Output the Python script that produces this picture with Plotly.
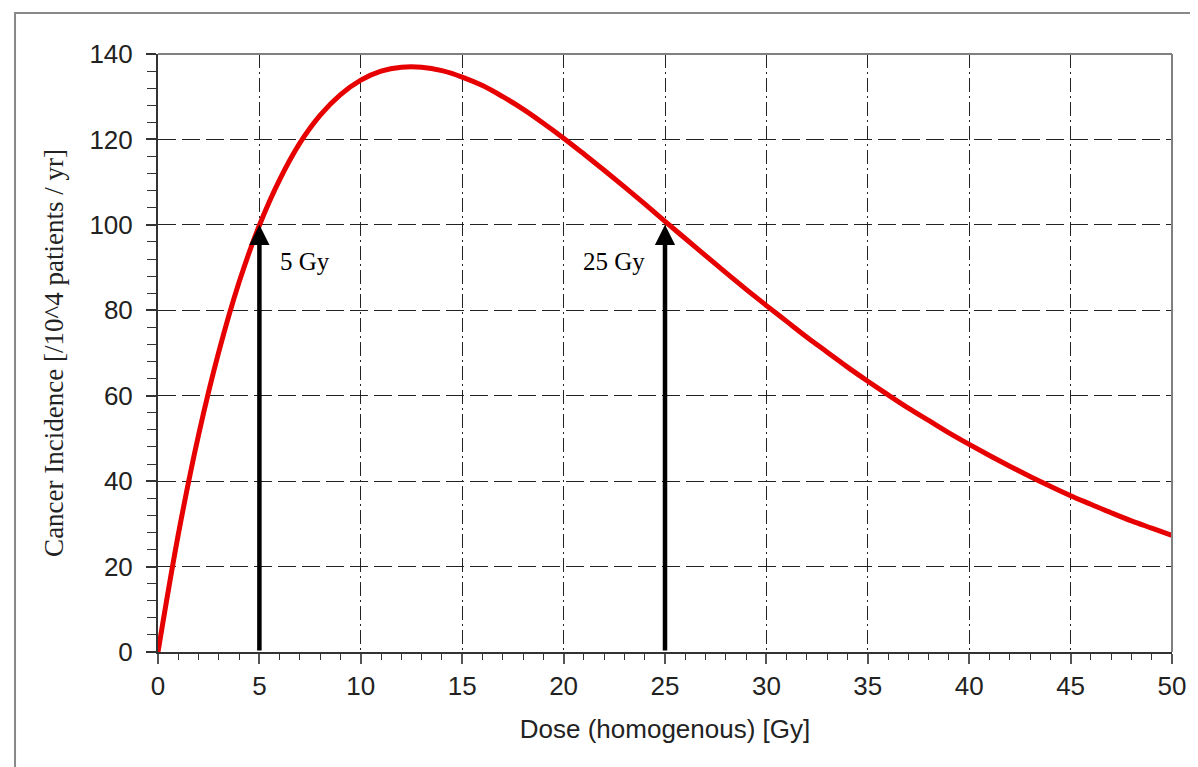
import plotly.graph_objects as go

dose = list(range(0, 51))
incidence = [0.0, 27.5, 50.8, 70.3, 86.6, 99.9, 110.6, 119.2, 125.7, 130.5,
             133.9, 136.0, 136.9, 136.9, 136.1, 134.6, 132.6, 130.0, 127.1, 123.8,
             120.3, 116.6, 112.8, 108.9, 104.9, 100.8, 96.8, 92.8, 88.8, 84.9,
             81.1, 77.4, 73.7, 70.2, 66.7, 63.4, 60.2, 57.1, 54.2, 51.3,
             48.6, 46.0, 43.5, 41.1, 38.8, 36.6, 34.6, 32.6, 30.7, 29.0, 27.3]

arrow_doses = [5, 25]
arrow_levels = [100, 100]
label_texts = ["5 Gy", "25 Gy"]
label_x = [5.92, 20.86]
label_y = [91.5, 91.5]

x_ticks = list(range(0, 51, 5))
y_ticks = list(range(0, 141, 20))

fig = go.Figure()
fig.add_trace(go.Scatter(x=dose, y=incidence, mode="lines",
                         line=dict(color="#e60000", width=5, shape="spline"),
                         showlegend=False, hoverinfo="skip"))

for d, lv in zip(arrow_doses, arrow_levels):
    fig.add_annotation(x=d, y=lv, ax=d, ay=0, xref="x", yref="y", axref="x", ayref="y",
                       text="", showarrow=True, arrowhead=2, arrowsize=0.9,
                       arrowwidth=4.5, arrowcolor="black")

for t, lx, ly in zip(label_texts, label_x, label_y):
    fig.add_annotation(x=lx, y=ly, xref="x", yref="y", text=t, showarrow=False,
                       xanchor="left", yanchor="middle",
                       font=dict(family="Liberation Serif", size=25, color="black"))

# outer frame
fig.add_shape(type="rect", xref="paper", yref="paper",
              x0=-0.141, x1=1.0316, y0=-0.204, y1=1.0686,
              line=dict(color="#888888", width=2), layer="below")
# plot frame top/right
fig.add_shape(type="line", xref="paper", yref="paper", x0=0, x1=1, y0=1, y1=1,
              line=dict(color="#808080", width=2))
fig.add_shape(type="line", xref="paper", yref="paper", x0=1, x1=1, y0=0, y1=1,
              line=dict(color="#808080", width=2))

fig.update_xaxes(range=[0, 50], tickvals=x_ticks, ticktext=[str(v) for v in x_ticks],
                 automargin=False,
                 showline=True, linecolor="#333333", linewidth=2,
                 ticks="outside", ticklen=10, tickwidth=1.5, tickcolor="#555555",
                 minor=dict(dtick=1, ticks="outside", ticklen=6, tickwidth=1, tickcolor="#333333", showgrid=False),
                 showgrid=True, gridcolor="#222222", gridwidth=1, griddash="14px,4px,2px,4px",
                 zeroline=False,
                 tickfont=dict(family="Liberation Sans", size=26, color="#222222"),
                 title=dict(text="Dose (homogenous) [Gy]", standoff=20,
                            font=dict(family="Liberation Sans", size=26, color="#222222")))
fig.update_yaxes(range=[0, 140], tickvals=y_ticks, ticktext=[str(v) for v in y_ticks],
                 automargin=False,
                 showline=True, linecolor="#333333", linewidth=2,
                 ticks="outside", ticklen=10, tickwidth=1.5, tickcolor="#333333",
                 ticklabelstandoff=8,
                 minor=dict(dtick=4, ticks="outside", ticklen=9, tickwidth=1, tickcolor="#333333", showgrid=False),
                 showgrid=True, gridcolor="#222222", gridwidth=1, griddash="18px,6px",
                 zeroline=False,
                 tickfont=dict(family="Liberation Sans", size=26, color="#222222"),
                 title=dict(text="Cancer Incidence [/10^4 patients / yr]", standoff=18,
                            font=dict(family="Liberation Serif", size=27, color="#222222")))

fig.update_layout(width=1198, height=767, plot_bgcolor="white", paper_bgcolor="white",
                  margin=dict(l=150, r=34, t=46, b=123), showlegend=False)

fig.write_html("out.html")
